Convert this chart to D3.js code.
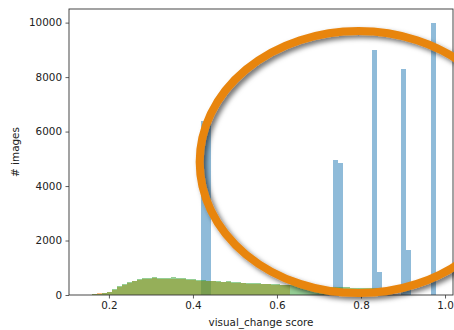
<!DOCTYPE html>
<html><head><meta charset="utf-8">
<script src="https://cdn.jsdelivr.net/npm/d3@7"></script>
<style>
html,body{margin:0;padding:0;background:#fff;overflow:hidden}
svg{display:block}
text{font-family:"DejaVu Sans",sans-serif;fill:#222}
</style></head>
<body>
<svg id="c" width="454" height="330"></svg>
<script>
// ---- data ----
const binWidth = 0.0118;
// blue series: sparse spikes (bin start, count)
const blueStarts = [0.419, 0.431, 0.733, 0.745, 0.827, 0.839, 0.895, 0.907, 0.966];
const blueCounts = [6400, 6400, 4950, 4850, 9000, 850, 8300, 1650, 10000];
// orange series: contiguous bins from orangeStart
const orangeStart = 0.160;
const orangeCounts = [40, 60, 80, 120, 200, 300, 380, 450, 510, 560, 590, 600, 610, 600, 600, 590, 600, 580, 570, 550,
                      540, 530, 520, 510, 500, 480, 470, 470, 450, 440, 430, 420, 410, 410, 400, 390, 380, 370, 360, 350];
// green series: contiguous bins from greenStart
const greenStart = 0.160;
const greenCounts = [20, 40, 70, 120, 210, 320, 400, 470, 530, 590, 620, 640, 650, 630, 640, 620, 650, 620, 610, 580,
                     570, 560, 540, 530, 520, 510, 490, 500, 470, 460, 450, 440, 430, 430, 410, 400, 400, 390, 380, 370,
                     360, 350, 340, 330, 320, 310, 310, 300, 300, 290, 290, 280, 270, 270, 260, 260, 250, 250, 240];
const xTicks = [0.2, 0.4, 0.6, 0.8, 1.0];
const yTicks = [0, 2000, 4000, 6000, 8000, 10000];
const xLabel = "visual_change score";
const yLabel = "# images";
// highlight ellipse annotation (data coords: centre and radii)
const ringCenter = [0.794, 4880];
const ringRadii = [0.378, 4810];

// ---- chart ----
const svg = d3.select("#c");
const L = 69, R = 453, T = 9, B = 295;
const x = d3.scaleLinear().domain([0.105, 1.019]).range([L, R]);
const y = d3.scaleLinear().domain([0, 10500]).range([B, T]);

const blue = blueStarts.map((s, i) => ({x0: s, x1: s + binWidth, v: blueCounts[i]}));
const orange = orangeCounts.map((v, i) => ({x0: orangeStart + i * binWidth, x1: orangeStart + (i + 1) * binWidth, v}));
const green = greenCounts.map((v, i) => ({x0: greenStart + i * binWidth, x1: greenStart + (i + 1) * binWidth, v}));

const plot = svg.append("g");
function bars(data, color) {
  plot.append("g").selectAll("rect").data(data).join("rect")
    .attr("x", d => x(d.x0)).attr("width", d => x(d.x1) - x(d.x0))
    .attr("y", d => y(d.v)).attr("height", d => y(0) - y(d.v))
    .attr("fill", color).attr("fill-opacity", 0.5).attr("shape-rendering", "crispEdges");
}
bars(blue, "#1f77b4");
bars(orange, "#ff7f0e");
bars(green, "#2ca02c");

// axes
const xAxis = d3.axisBottom(x).tickValues(xTicks).tickFormat(d3.format(".1f")).tickSize(3.5).tickPadding(3.5);
const yAxis = d3.axisLeft(y).tickValues(yTicks).tickFormat(d => d).tickSize(3.5).tickPadding(3.5);
const gx = svg.append("g").attr("transform", `translate(0,${B})`).call(xAxis);
const gy = svg.append("g").attr("transform", `translate(${L},0)`).call(yAxis);
[gx, gy].forEach(g => {
  g.select(".domain").remove();
  g.selectAll("line").attr("stroke", "#333").attr("stroke-width", 0.8);
  g.selectAll("text").attr("font-size", "10.4px").attr("fill", "#333").attr("font-family", "DejaVu Sans");
});
// spines
svg.append("rect").attr("x", L).attr("y", T).attr("width", R - L).attr("height", B - T)
  .attr("fill", "none").attr("stroke", "#333").attr("stroke-width", 0.9);

svg.append("text").attr("x", (L + R) / 2 + 0).attr("y", 326).attr("text-anchor", "middle")
  .attr("font-size", "10.4px").attr("fill", "#333").text(xLabel);
svg.append("text").attr("transform", `translate(19,${(T + B) / 2}) rotate(-90)`).attr("text-anchor", "middle")
  .attr("font-size", "10.4px").attr("fill", "#333").text(yLabel);

// annotation ring with shadow
const defs = svg.append("defs");
const f = defs.append("filter").attr("id", "sh").attr("x", "-20%").attr("y", "-20%").attr("width", "140%").attr("height", "140%");
f.append("feDropShadow").attr("dx", 3).attr("dy", 3).attr("stdDeviation", 2.5)
  .attr("flood-color", "#000").attr("flood-opacity", 0.55);
svg.append("ellipse")
  .attr("cx", x(ringCenter[0])).attr("cy", y(ringCenter[1]))
  .attr("rx", x(ringCenter[0] + ringRadii[0]) - x(ringCenter[0]))
  .attr("ry", y(0) - y(ringRadii[1]))
  .attr("fill", "none").attr("stroke", "#e8850f").attr("stroke-width", 8)
  .attr("filter", "url(#sh)");
</script>
</body></html>
